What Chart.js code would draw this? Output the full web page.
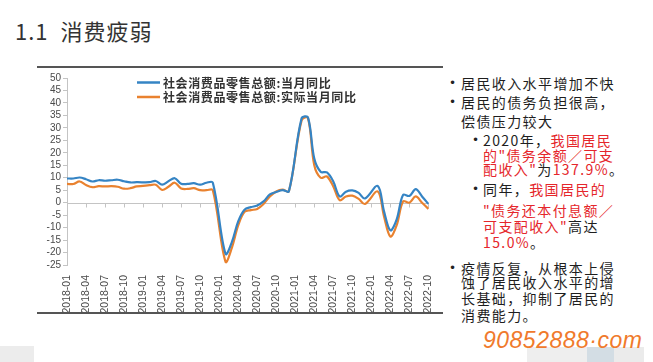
<!DOCTYPE html>
<html>
<head>
<meta charset="utf-8">
<script src="https://cdn.jsdelivr.net/npm/chart.js@4.4.0/dist/chart.umd.min.js"></script>
<style>
  html, body { margin: 0; padding: 0; background: #fff; }
  body { width: 653px; height: 362px; position: relative; overflow: hidden;
         font-family: "Noto Sans CJK SC", "Noto Sans", sans-serif; }
  #title { position: absolute; left: 15px; top: 15px; font-size: 22px; line-height: 30px; color: #333; letter-spacing: 1px; }
  .rule { position: absolute; left: 37px; width: 406px; height: 2px; background: #555; }
  #box { position: absolute; left: 37px; top: 69px; width: 406px; height: 244px; }
  .ln { position: absolute; white-space: nowrap; font-size: 14px; line-height: 16px; color: #1e1e1e; letter-spacing: 1.4px; }
  .red { color: #e5262b; }
  .dot { position: absolute; font-family: "DejaVu Sans", sans-serif; font-size: 12px; line-height: 16px; color: #222; }
  #wm { position: absolute; left: 483px; top: 326px; font-family: "Liberation Sans", sans-serif; font-style: italic;
        font-size: 23px; line-height: 28px; color: #f07a2c; letter-spacing: 0.5px; }
  .blk { position: absolute; }
</style>
</head>
<body>
<div id="title">1.1&nbsp; 消费疲弱</div>
<div class="rule" style="top:66px"></div>
<div id="box"><canvas id="chart"></canvas></div>
<div class="rule" style="top:312px"></div>

<div class="dot" style="left:449px;top:75px">•</div>
<div class="ln" style="left:461px;top:75px">居民收入水平增加不快</div>
<div class="dot" style="left:449px;top:94px">•</div>
<div class="ln" style="left:461px;top:94px">居民的债务负担很高，</div>
<div class="ln" style="left:461px;top:113px">偿债压力较大</div>

<div class="dot" style="left:472px;top:132px">•</div>
<div class="ln" style="left:483px;top:132px">2020年，<span class="red">我国居民</span></div>
<div class="ln red" style="left:483px;top:147px">的"债务余额／可支</div>
<div class="ln red" style="left:483px;top:161px">配收入"<span style="color:#1e1e1e">为</span>137.9%<span style="color:#1e1e1e">。</span></div>
<div class="dot" style="left:472px;top:181px">•</div>
<div class="ln" style="left:483px;top:181px">同年，<span class="red">我国居民的</span></div>
<div class="ln red" style="left:483px;top:202px">"债务还本付息额／</div>
<div class="ln red" style="left:483px;top:218px">可支配收入"<span style="color:#1e1e1e">高达</span></div>
<div class="ln red" style="left:483px;top:234px">15.0%<span style="color:#1e1e1e">。</span></div>

<div class="dot" style="left:449px;top:260px">•</div>
<div class="ln" style="left:461px;top:260px">疫情反复，从根本上侵</div>
<div class="ln" style="left:461px;top:274px">蚀了居民收入水平的增</div>
<div class="ln" style="left:461px;top:290px">长基础，抑制了居民的</div>
<div class="ln" style="left:461px;top:307px">消费能力。</div>

<div class="blk" style="left:0;top:346px;width:34px;height:16px;background:#ececec"></div>
<div class="blk" style="left:527px;top:347px;width:60px;height:15px;background:#eeeeee"></div>
<div class="blk" style="left:587px;top:347px;width:27px;height:15px;background:#d3dde4"></div>
<div class="blk" style="left:614px;top:347px;width:30px;height:15px;background:#ebebeb"></div>
<div id="wm">90852888·com</div>

<script>
const months = [
  '2018-01','2018-02','2018-03','2018-04','2018-05','2018-06','2018-07','2018-08','2018-09','2018-10','2018-11','2018-12',
  '2019-01','2019-02','2019-03','2019-04','2019-05','2019-06','2019-07','2019-08','2019-09','2019-10','2019-11','2019-12',
  '2020-01','2020-02','2020-03','2020-04','2020-05','2020-06','2020-07','2020-08','2020-09','2020-10','2020-11','2020-12',
  '2021-01','2021-02','2021-03','2021-04','2021-05','2021-06','2021-07','2021-08','2021-09','2021-10','2021-11','2021-12',
  '2022-01','2022-02','2022-03','2022-04','2022-05','2022-06','2022-07','2022-08','2022-09','2022-10'
];

// 社会消费品零售总额:当月同比 (%)
const nominalYoY = [
  9.7, 9.7, 10.1, 9.4, 8.5, 9.0, 8.8, 9.0, 9.2, 8.6, 8.1, 8.2,
  null, 8.2, 8.7, 7.2, 8.6, 9.8, 7.6, 7.5, 7.8, 7.2, 8.0, 8.0,
  null, -20.5, -15.8, -7.5, -2.8, -1.8, -1.1, 0.5, 3.3, 4.3, 5.0, 4.6,
  null, 33.8, 34.2, 17.7, 12.4, 12.1, 8.5, 2.5, 4.4, 4.9, 3.9, 1.7,
  null, 6.7, -3.5, -11.1, -6.7, 3.1, 2.7, 5.4, 2.5, -0.5
];

// 社会消费品零售总额:实际当月同比 (%)
const realYoY = [
  7.5, 7.5, 8.5, 7.1, 6.2, 6.6, 6.5, 6.6, 6.4, 5.6, 5.8, 6.5,
  null, 7.0, 7.2, 5.1, 6.4, 8.0, 5.7, 5.5, 5.8, 5.0, 5.0, 5.0,
  null, -23.7, -18.1, -9.1, -3.7, -3.0, -2.5, -0.5, 2.5, 4.5, 5.2, 4.6,
  null, 33.0, 34.0, 15.0, 10.0, 10.5, 6.5, 1.0, 2.5, 2.8, 1.5, -0.5,
  null, 4.5, -5.5, -13.6, -9.0, 0.5, 0.0, 2.5, 0.0, -2.5
];

const seriesNames = ['社会消费品零售总额:当月同比', '社会消费品零售总额:实际当月同比'];
const seriesColors = ['#3584c4', '#e9822f'];
const yTicks = { min: -25, max: 50, step: 5 };

// zero line with small tick marks, like the Excel axis crossing at 0
const zeroAxis = {
  id: 'zeroAxis',
  beforeDatasetsDraw(chart) {
    const { ctx, chartArea, scales: { x, y } } = chart;
    const y0 = Math.round(y.getPixelForValue(0)) + 0.5;
    ctx.save();
    ctx.strokeStyle = '#c4c4c4';
    ctx.lineWidth = 1;
    ctx.beginPath();
    ctx.moveTo(chartArea.left, y0);
    ctx.lineTo(chartArea.right, y0);
    months.forEach((m, i) => {
      if (i % 3 === 0) {
        const px = Math.round(x.getPixelForValue(i)) + 0.5;
        ctx.moveTo(px, y0);
        ctx.lineTo(px, y0 + 4);
      }
    });
    ctx.stroke();
    ctx.restore();
  }
};

// legend sits inside the plot, left aligned, one row per series
const insideLegend = {
  id: 'insideLegend',
  afterDraw(chart) {
    const { ctx, chartArea } = chart;
    const x0 = chartArea.left + 70;
    const rows = [chartArea.top + 4.5, chartArea.top + 19];
    ctx.save();
    ctx.font = 'bold 12px "Noto Sans CJK SC", sans-serif';
    ctx.textBaseline = 'middle';
    ctx.letterSpacing = '0.6px';
    seriesNames.forEach((name, i) => {
      ctx.strokeStyle = seriesColors[i];
      ctx.lineWidth = 2.5;
      ctx.beginPath();
      ctx.moveTo(x0, rows[i]);
      ctx.lineTo(x0 + 23, rows[i]);
      ctx.stroke();
      ctx.fillStyle = '#333';
      ctx.fillText(name, x0 + 26, rows[i] + 0.5);
    });
    ctx.restore();
  }
};

new Chart(document.getElementById('chart'), {
  type: 'line',
  data: {
    labels: months,
    datasets: [
      { label: seriesNames[0], data: nominalYoY, borderColor: seriesColors[0], backgroundColor: seriesColors[0] },
      { label: seriesNames[1], data: realYoY, borderColor: seriesColors[1], backgroundColor: seriesColors[1] }
    ]
  },
  options: {
    responsive: true,
    maintainAspectRatio: false,
    animation: false,
    spanGaps: true,
    layout: { padding: { top: 9, right: 5, left: 0, bottom: 0 } },
    elements: {
      line: { borderWidth: 2.2, tension: 0.35 },
      point: { radius: 0, hoverRadius: 0 }
    },
    plugins: {
      legend: { display: false },
      tooltip: { enabled: false }
    },
    scales: {
      x: {
        offset: false,
        grid: { display: false },
        border: { display: false },
        ticks: {
          autoSkip: false,
          maxRotation: 90,
          minRotation: 90,
          padding: 2,
          color: '#4a4a4a',
          font: { family: 'Liberation Sans', size: 10.5 },
          callback: (v, i) => (i % 3 === 0 ? months[i] : null)
        },
        afterFit: (scale) => { scale.height = 48; }
      },
      y: {
        min: yTicks.min,
        max: yTicks.max,
        grid: { drawOnChartArea: false, drawTicks: true, tickLength: 4, color: '#c4c4c4' },
        border: { display: true, color: '#c4c4c4' },
        ticks: {
          stepSize: yTicks.step,
          autoSkip: false,
          padding: 2,
          color: '#4a4a4a',
          font: { family: 'Liberation Sans', size: 10 }
        },
        afterFit: (scale) => { scale.width = 30; }
      }
    }
  },
  plugins: [zeroAxis, insideLegend]
});
</script>
</body>
</html>
